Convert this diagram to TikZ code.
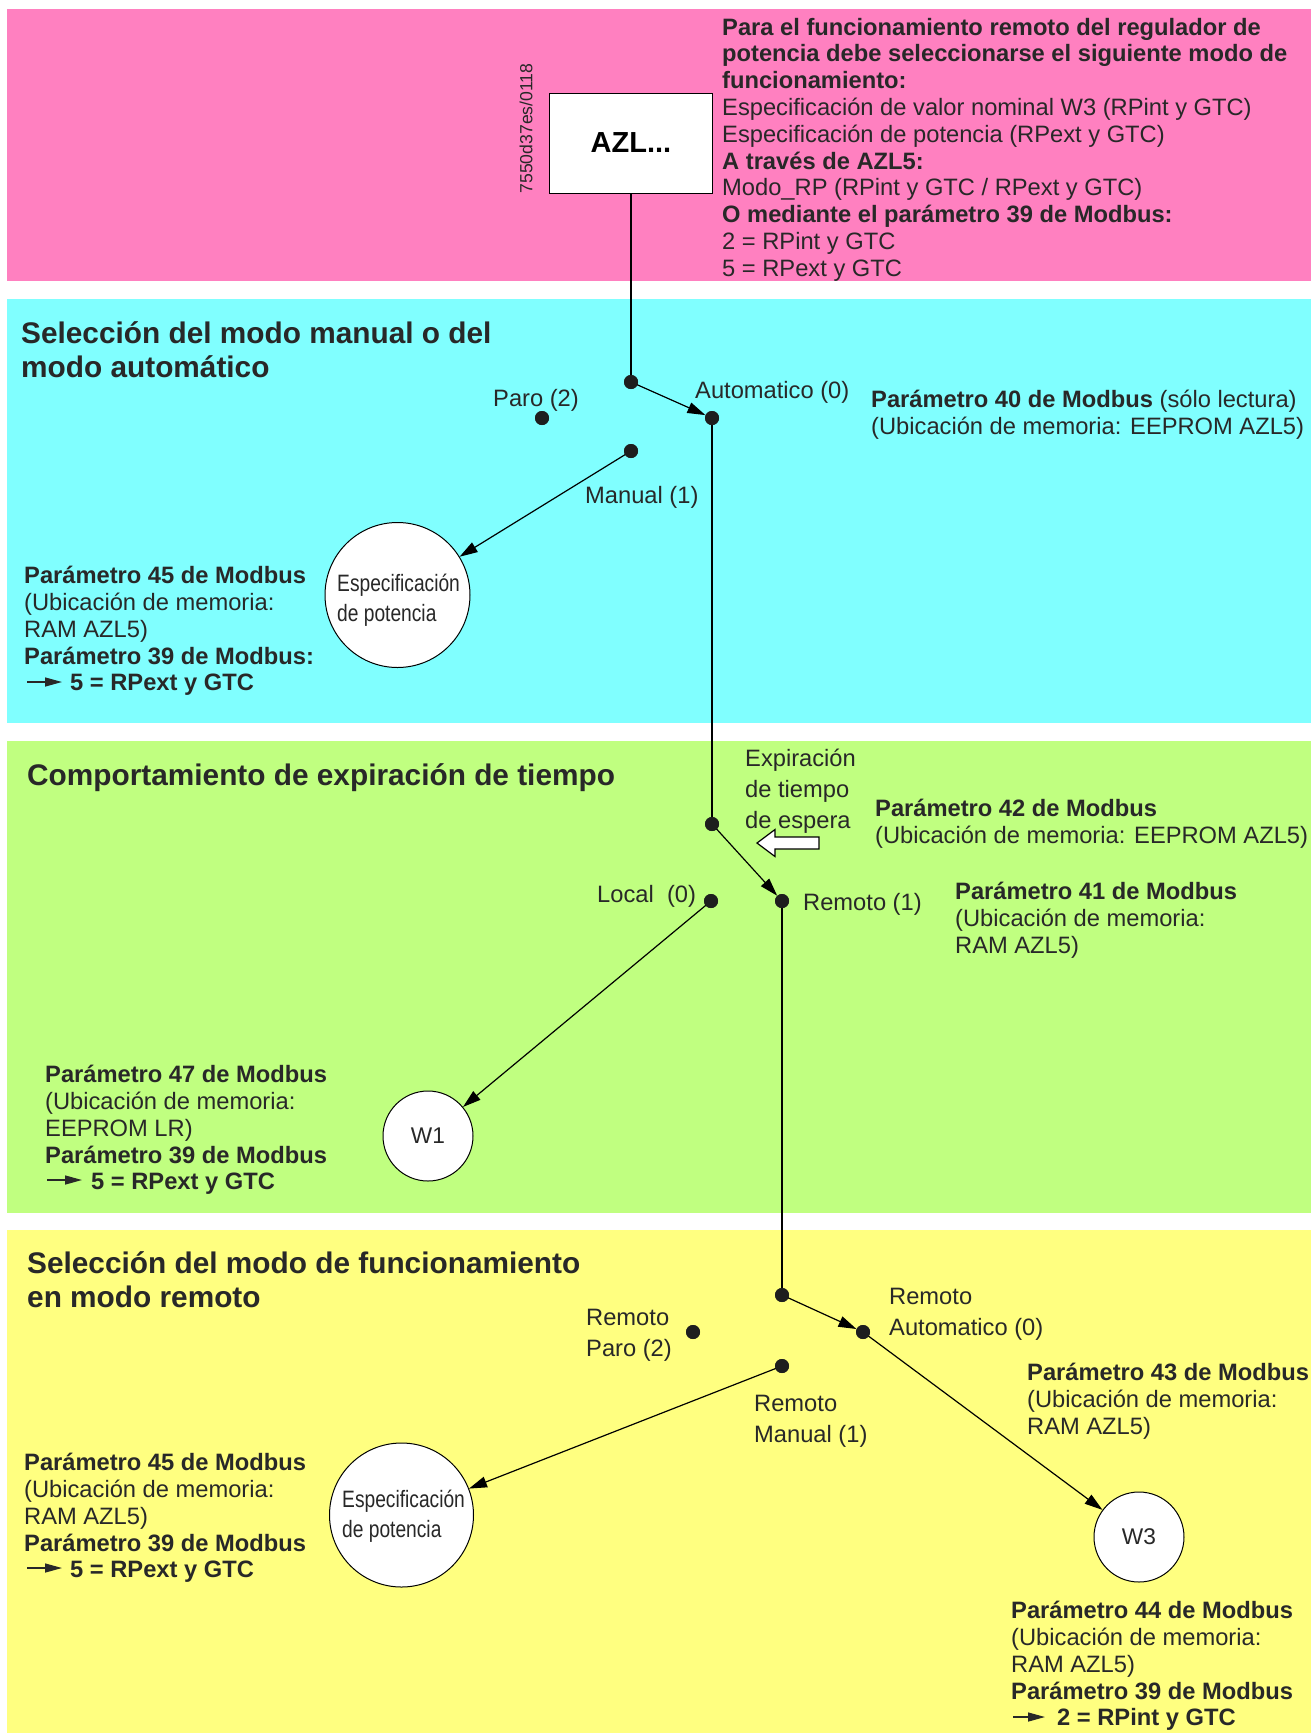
\documentclass[tikz,border=0pt]{standalone}
\usepackage{fontspec}
\setmainfont{Liberation Sans}
\newfontfamily\narrowfont[FakeStretch=0.81]{Liberation Sans}
\usetikzlibrary{arrows.meta}
\definecolor{pinkbg}{RGB}{255,128,192}
\definecolor{cyanbg}{RGB}{128,255,255}
\definecolor{greenbg}{RGB}{192,255,128}
\definecolor{yellowbg}{RGB}{255,255,128}
\definecolor{txt}{RGB}{40,40,40}
\definecolor{dotc}{RGB}{30,30,30}
\begin{document}
\begin{tikzpicture}[x=1pt,y=-1pt,
  body/.style={font=\fontsize{23.7}{26.8}\selectfont, text=txt, inner sep=0pt, align=left, anchor=north west},
  ttl/.style={font=\bfseries\fontsize{29.8}{33.5}\selectfont, text=txt, inner sep=0pt, align=left, anchor=north west},
  lbl/.style={font=\fontsize{23.7}{30.7}\selectfont, text=txt, inner sep=0pt, align=left, anchor=north west},
  narrowlbl/.style={font=\narrowfont\fontsize{23.7}{30}\selectfont, text=txt, inner sep=0pt, align=left, anchor=north west},
  sdot/.style={circle, fill=dotc, minimum size=14pt, inner sep=0pt},
  bubble/.style={circle, draw=black, fill=white, line width=1pt, inner sep=0pt, text=txt},
  wire/.style={line width=1.2pt, draw=black},
  arr/.style={wire, -{Triangle[length=18pt,width=11pt]}},
  mini/.style={line width=1.4pt, draw=txt, -{Triangle[length=17pt,width=9pt]}}
]
\useasboundingbox (0,0) rectangle (1311,1733);
\fill[white] (0,0) rectangle (1311,1733);
% bands
\fill[pinkbg] (7,9) rectangle (1311,281);
\fill[cyanbg] (7,299) rectangle (1311,723);
\fill[greenbg] (7,741) rectangle (1311,1213);
\fill[yellowbg] (7,1230) rectangle (1311,1733);

% pink section
\node[draw=black, fill=white, line width=1pt, minimum width=163pt, minimum height=100pt, inner sep=0pt, text=black, font=\bfseries\fontsize{29}{33}\selectfont] (azl) at (631,143) {AZL...};
\node[rotate=90, inner sep=0pt, text=txt, font=\fontsize{17.6}{20}\selectfont] (code) at (526,128.5) {7550d37es/0118};
\node[body] (pinktext) at (722,16.2) {\strut\textbf{Para el funcionamiento remoto del regulador de}\\
\textbf{potencia debe seleccionarse el siguiente modo de}\\
\textbf{funcionamiento:}\\
Especificación de valor nominal W3 (RPint y GTC)\\
Especificación de potencia (RPext y GTC)\\
\textbf{A través de AZL5:}\\
Modo\_RP (RPint y GTC / RPext y GTC)\\
\textbf{O mediante el parámetro 39 de Modbus:}\\
2 = RPint y GTC\\
5 = RPext y GTC};

% cyan section
\node[ttl] (ttlcyan) at (21,320.3) {\strut Selección del modo manual o del\\modo automático};
\node[sdot] (d1) at (631,382) {};
\node[sdot] (paro) at (542,418) {};
\node[sdot] (auto) at (712,418) {};
\node[sdot] (man) at (631,451) {};
\node[lbl] (lparo) at (493,385) {\strut Paro (2)};
\node[lbl] (lauto) at (695,377) {\strut Automatico (0)};
\node[lbl] (lman) at (585,482) {\strut Manual (1)};
\node[body] (p40) at (871,388.7) {\strut\textbf{Parámetro 40 de Modbus} (sólo lectura)\\(Ubicación de memoria: EEPROM AZL5)};
\node[bubble, minimum size=145pt] (esp1) at (397.5,595) {};
\node[narrowlbl] (esp1txt) at (337,570.5) {\strut Especificación\\de potencia};
\node[body] (cyanleft) at (24,564.7) {\strut\textbf{Parámetro 45 de Modbus}\\
(Ubicación de memoria:\\
RAM AZL5)\\
\textbf{Parámetro 39 de Modbus:}\\
\hspace*{46pt}\textbf{5 = RPext y GTC}};
\draw[mini] (27,682) -- (62,682);

% green section
\node[ttl] (ttlgreen) at (27,762.3) {\strut Comportamiento de expiración de tiempo};
\node[lbl] (lexp) at (745,745) {\strut Expiración\\de tiempo\\de espera};
\node[sdot] (tdot) at (712,824) {};
\node[sdot] (local) at (711,901) {};
\node[sdot] (rem) at (782,901) {};
\node[lbl] (llocal) at (597,881) {\strut Local\ \ (0)};
\node[lbl] (lrem) at (803,889) {\strut Remoto (1)};
\node[body] (p42) at (875,797.7) {\strut\textbf{Parámetro 42 de Modbus}\\(Ubicación de memoria: EEPROM AZL5)};
\node[body] (p41) at (955,880.7) {\strut\textbf{Parámetro 41 de Modbus}\\(Ubicación de memoria:\\RAM AZL5)};
\draw[line width=1.2pt, fill=white] (757,843) -- (775,829.5) -- (775,837) -- (819,837) -- (819,849) -- (775,849) -- (775,856.5) -- cycle;
\node[bubble, minimum size=90pt, font=\fontsize{22.7}{26}\selectfont] (w1) at (428,1136) {W1};
\node[body] (greenleft) at (45,1063.7) {\strut\textbf{Parámetro 47 de Modbus}\\
(Ubicación de memoria:\\
EEPROM LR)\\
\textbf{Parámetro 39 de Modbus}\\
\hspace*{46pt}\textbf{5 = RPext y GTC}};
\draw[mini] (47,1180) -- (82,1180);

% yellow section
\node[ttl] (ttlyellow) at (27,1250.3) {\strut Selección del modo de funcionamiento\\en modo remoto};
\node[sdot] (jdot) at (782,1295) {};
\node[sdot] (rparo) at (693,1332) {};
\node[sdot] (rauto) at (863,1332) {};
\node[sdot] (rman) at (782,1366) {};
\node[lbl] (lrparo) at (586,1304) {\strut Remoto\\Paro (2)};
\node[lbl] (lrauto) at (889,1283) {\strut Remoto\\Automatico (0)};
\node[lbl] (lrman) at (754,1390) {\strut Remoto\\Manual (1)};
\node[body] (p43) at (1027,1361.7) {\strut\textbf{Parámetro 43 de Modbus}\\(Ubicación de memoria:\\RAM AZL5)};
\node[bubble, minimum size=144pt] (esp2) at (401.5,1515) {};
\node[narrowlbl] (esp2txt) at (342,1486.5) {\strut Especificación\\de potencia};
\node[body] (yellowleft) at (24,1451.7) {\strut\textbf{Parámetro 45 de Modbus}\\
(Ubicación de memoria:\\
RAM AZL5)\\
\textbf{Parámetro 39 de Modbus}\\
\hspace*{46pt}\textbf{5 = RPext y GTC}};
\draw[mini] (27,1568) -- (62,1568);
\node[bubble, minimum size=90pt, font=\fontsize{22.7}{26}\selectfont] (w3) at (1139,1537) {W3};
\node[body] (p44) at (1011,1599.7) {\strut\textbf{Parámetro 44 de Modbus}\\
(Ubicación de memoria:\\
RAM AZL5)\\
\textbf{Parámetro 39 de Modbus}\\
\hspace*{46pt}\textbf{2 = RPint y GTC}};
\draw[mini] (1013,1717) -- (1045,1717);

% connectors
\draw[wire] (azl.south) -- (d1.center);
\draw[arr] (d1.center) -- (auto);
\draw[wire] (auto.center) -- (tdot.center);
\draw[arr] (man.center) -- (esp1);
\draw[arr] (tdot.center) -- (rem);
\draw[arr] (local.center) -- (w1);
\draw[wire] (rem.center) -- (jdot.center);
\draw[arr] (jdot.center) -- (rauto);
\draw[arr] (rauto.center) -- (w3);
\draw[arr] (rman.center) -- (esp2);
% redraw dots on top
\foreach \d in {d1,paro,auto,man,tdot,local,rem,jdot,rparo,rauto,rman}{\fill[dotc] (\d) circle (7pt);}
\end{tikzpicture}
\end{document}
